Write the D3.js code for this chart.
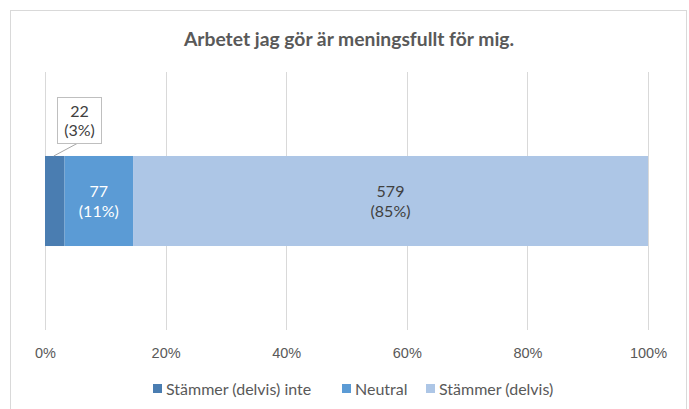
<!DOCTYPE html>
<html>
<head>
<meta charset="utf-8">
<script src="https://cdn.jsdelivr.net/npm/d3@7"></script>
<style>
  body { margin: 0; background: #fff; }
  svg { display: block; font-family: Lato, "Open Sans", sans-serif; }
</style>
</head>
<body>
<svg id="chart" width="689" height="409"></svg>
<script>
const title = "Arbetet jag gör är meningsfullt för mig.";
const categories = ["Stämmer (delvis) inte", "Neutral", "Stämmer (delvis)"];
const counts = [22, 77, 579];
const percents = [3, 11, 85];
const colors = ["#4a7db1", "#5b9bd5", "#adc6e6"];
const ticks = [0, 0.2, 0.4, 0.6, 0.8, 1];

const svg = d3.select("#chart");
const total = d3.sum(counts);

// chart border
svg.append("rect")
    .attr("x", 10.5).attr("y", 10.5)
    .attr("width", 676).attr("height", 410)
    .attr("fill", "#fff").attr("stroke", "#d9d9d9");

svg.append("text")
    .attr("x", 349).attr("y", 46)
    .attr("text-anchor", "middle")
    .attr("font-size", 19.3).attr("font-weight", "bold")
    .attr("fill", "#595959")
    .text(title);

let x = d3.scaleLinear().domain([0, 1]).range([45, 648]);
let y = d3.scaleBand().domain(["q"]).range([72, 330]).paddingInner(0).paddingOuter(0.933);

// gridlines
svg.append("g").selectAll("line")
    .data(ticks)
    .join("line")
    .attr("x1", d => Math.round(x(d)) + 0.5)
    .attr("x2", d => Math.round(x(d)) + 0.5)
    .attr("y1", 72).attr("y2", 330)
    .attr("stroke", "#d9d9d9");

let axis = d3.axisBottom(x).tickValues(ticks).tickFormat(d3.format(".0%")).tickSize(0).tickPadding(0);
let ax = svg.append("g").attr("transform", "translate(0,358)").call(axis);
ax.select(".domain").remove();
ax.selectAll("text")
    .attr("y", 0).attr("dy", 0)
    .attr("font-size", 14.5).attr("fill", "#595959").attr("font-family", null);

// stacked segments
let stacked = [];
let acc = 0;
counts.forEach((c, i) => {
    stacked.push({i: i, x0: acc / total, x1: (acc + c) / total, c: c, p: percents[i]});
    acc += c;
});

let barY = y("q"), barH = y.bandwidth();

svg.append("g").selectAll("rect")
    .data(stacked)
    .join("rect")
    .attr("x", d => x(d.x0))
    .attr("width", d => x(d.x1) - x(d.x0))
    .attr("y", barY)
    .attr("height", barH)
    .attr("fill", d => colors[d.i]);

// labels inside (segments 2 and 3)
let inside = svg.append("g").selectAll("text")
    .data(stacked.slice(1))
    .join("text")
    .attr("text-anchor", "middle")
    .attr("font-size", 16)
    .attr("fill", d => d.i === 1 ? "#ffffff" : "#404040");
inside.append("tspan")
    .attr("x", d => (x(d.x0) + x(d.x1)) / 2)
    .attr("y", barY + barH / 2 - 4)
    .text(d => d.c);
inside.append("tspan")
    .attr("x", d => (x(d.x0) + x(d.x1)) / 2)
    .attr("y", barY + barH / 2 + 16)
    .text(d => "(" + d.p + "%)");

// callout for first small segment
let s0 = stacked[0];
let bx = 57, by = 97, bw = 44, bh = 46;
svg.append("line")
    .attr("x1", (x(s0.x0) + x(s0.x1)) / 2 - 1).attr("y1", barY)
    .attr("x2", bx + 21).attr("y2", by + bh)
    .attr("stroke", "#a6a6a6");
svg.append("rect")
    .attr("x", bx + 0.5).attr("y", by + 0.5)
    .attr("width", bw).attr("height", bh)
    .attr("fill", "#fff").attr("stroke", "#bfbfbf");
let ct = svg.append("text").attr("text-anchor", "middle").attr("font-size", 16).attr("fill", "#404040");
ct.append("tspan").attr("x", bx + bw / 2 + 0.5).attr("y", by + 20).text(s0.c);
ct.append("tspan").attr("x", bx + bw / 2 + 0.5).attr("y", by + 39).text("(" + s0.p + "%)");

// legend
let legendX = [153, 342, 426];
let lg = svg.append("g").selectAll("g")
    .data(categories)
    .join("g")
    .attr("transform", (d, i) => "translate(" + legendX[i] + ",384)");
lg.append("rect").attr("width", 9).attr("height", 9).attr("fill", (d, i) => colors[i]);
lg.append("text").attr("x", 13).attr("y", 10.5).attr("font-size", 16).attr("fill", "#595959").text(d => d);
</script>
</body>
</html>
